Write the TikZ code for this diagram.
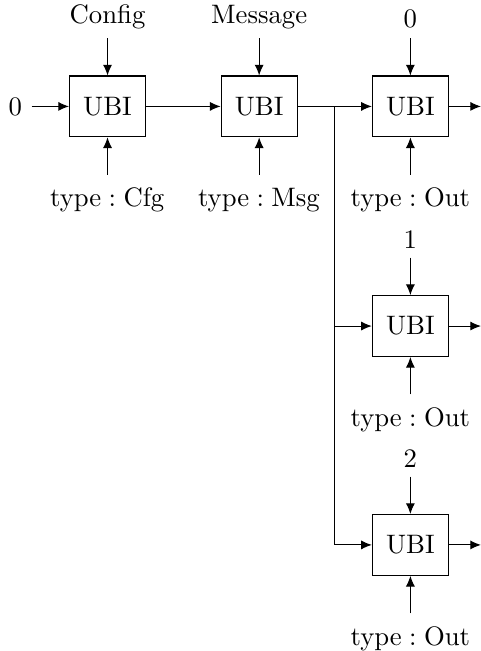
\documentclass[tikz,border=0pt]{standalone}
\usetikzlibrary{arrows.meta}
\begin{document}
\begin{tikzpicture}[
  ubi/.style={draw, minimum width=1cm, minimum height=0.8cm, inner sep=0pt},
  conn/.style={-{Latex[length=4pt,width=3.4pt]}},
  toplbl/.style={anchor=south},
  botlbl/.style={anchor=north, yshift=-1.5pt},
]
\useasboundingbox (0,0) rectangle (6.329,-8.566);
% boxes
\node[ubi] (b1) at (1.415,-1.40) {UBI};
\node[ubi] (b2) at (3.41,-1.40) {UBI};
\node[ubi] (b3) at (5.40,-1.40) {UBI};
\node[ubi] (b4) at (5.40,-4.29) {UBI};
\node[ubi] (b5) at (5.40,-7.17) {UBI};
% top inputs
\coordinate (s1) at (1.415,-0.5);
\coordinate (s2) at (3.41,-0.5);
\coordinate (s3) at (5.40,-0.5);
\coordinate (s4) at (5.40,-3.39);
\coordinate (s5) at (5.40,-6.27);
\node[toplbl] (l1) at (s1) {Config};
\node[toplbl] (l2) at (s2) {Message};
\node[toplbl] (l3) at (s3) {0};
\node[toplbl] (l4) at (s4) {1};
\node[toplbl] (l5) at (s5) {2};
\foreach \i in {1,...,5} \draw[conn] (s\i) -- (b\i);
% bottom inputs
\coordinate (e1) at (1.415,-2.3);
\coordinate (e2) at (3.41,-2.3);
\coordinate (e3) at (5.40,-2.3);
\coordinate (e4) at (5.40,-5.19);
\coordinate (e5) at (5.40,-8.07);
\node[botlbl] (m1) at (e1) {$\mathrm{type}:\mathrm{Cfg}$};
\node[botlbl] (m2) at (e2) {$\mathrm{type}:\mathrm{Msg}$};
\node[botlbl] (m3) at (e3) {$\mathrm{type}:\mathrm{Out}$};
\node[botlbl] (m4) at (e4) {$\mathrm{type}:\mathrm{Out}$};
\node[botlbl] (m5) at (e5) {$\mathrm{type}:\mathrm{Out}$};
\foreach \i in {1,...,5} \draw[conn] (e\i) -- (b\i);
% left input
\coordinate (in) at (0.415,-1.40);
\node[anchor=east] (zero) at (in) {0};
\draw[conn] (in) -- (b1);
% chain
\draw[conn] (b1) -- (b2);
\coordinate (j) at (4.405,-1.40);
\draw[conn] (b2) -- (b3);
\draw[conn] (j) |- (b4);
\draw[conn] (j) |- (b5);
% outputs
\coordinate (o3) at (6.329,-1.40);
\coordinate (o4) at (6.329,-4.29);
\coordinate (o5) at (6.329,-7.17);
\draw[conn] (b3) -- (o3);
\draw[conn] (b4) -- (o4);
\draw[conn] (b5) -- (o5);
\end{tikzpicture}
\end{document}
